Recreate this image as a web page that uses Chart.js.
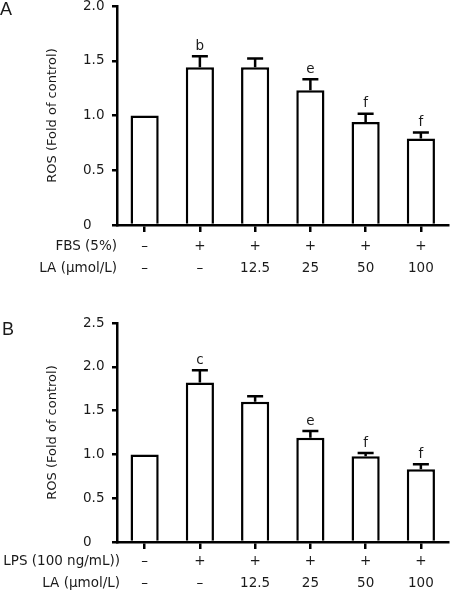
<!DOCTYPE html>
<html>
<head>
<meta charset="utf-8">
<script src="https://cdn.jsdelivr.net/npm/chart.js@4/dist/chart.umd.min.js"></script>
<style>
  html, body { margin: 0; padding: 0; background: #fff; }
  body { width: 450px; height: 593px; position: relative; overflow: hidden; }
  canvas { position: absolute; left: 0; }
  #cA { top: 0; }
  #cB { top: 290px; }
</style>
</head>
<body>
<canvas id="cA" width="450" height="290"></canvas>
<canvas id="cB" width="450" height="303"></canvas>
<script>
// ---- data ----
const groups = ['Control', 'Stimulus', 'Stimulus + LA 12.5', 'Stimulus + LA 25', 'Stimulus + LA 50', 'Stimulus + LA 100'];
const laRow = ['–', '–', '12.5', '25', '50', '100'];
const fbsRow = ['–', '+', '+', '+', '+', '+'];
const lpsRow = ['–', '+', '+', '+', '+', '+'];
const rosA = [1.00, 1.44, 1.44, 1.23, 0.94, 0.79];
const errA = [0, 0.10, 0.08, 0.10, 0.075, 0.055];
const sigA = ['', 'b', '', 'e', 'f', 'f'];
const rosB = [1.00, 1.82, 1.60, 1.19, 0.98, 0.83];
const errB = [0, 0.14, 0.065, 0.076, 0.035, 0.057];
const sigB = ['', 'c', '', 'e', 'f', 'f'];
const yMaxA = 2.0;
const yMaxB = 2.5;
const yStep = 0.5;
const yTitle = 'ROS (Fold of control)';

const FONT = '"DejaVu Sans", sans-serif';
const TXT = '#1a1a1a';
const LW = 2.5;

function decorPlugin(o) {
  return {
    id: 'decor',
    afterDatasetsDraw(chart) {
      const ctx = chart.ctx, xs = chart.scales.x, ys = chart.scales.y;
      const meta = chart.getDatasetMeta(0);
      ctx.save();
      ctx.strokeStyle = '#000';
      ctx.lineWidth = LW;
      ctx.fillStyle = TXT;
      ctx.font = '13.5px ' + FONT;
      ctx.textAlign = 'center';
      ctx.textBaseline = 'alphabetic';
      o.values.forEach((v, i) => {
        const bar = meta.data[i];
        const e = o.errors[i];
        const top = ys.getPixelForValue(v + e);
        if (e > 0) {
          ctx.beginPath();
          ctx.moveTo(bar.x, bar.y);
          ctx.lineTo(bar.x, top);
          ctx.moveTo(bar.x - 8, top);
          ctx.lineTo(bar.x + 8, top);
          ctx.stroke();
        }
        if (o.letters[i]) ctx.fillText(o.letters[i], bar.x, top - 6.5);
      });
      // condition rows
      ctx.textBaseline = 'middle';
      o.rows.forEach(r => {
        ctx.textAlign = 'right';
        ctx.fillText(r.title, o.rowTitleRight, r.y);
        ctx.textAlign = 'center';
        r.vals.forEach((t, i) => ctx.fillText(t, xs.getPixelForValue(i), r.y));
      });
      // y title
      ctx.save();
      ctx.font = '13px ' + FONT;
      ctx.translate(53, (chart.chartArea.top + chart.chartArea.bottom) / 2);
      ctx.rotate(-Math.PI / 2);
      ctx.textAlign = 'center';
      ctx.textBaseline = 'middle';
      ctx.fillText(yTitle, 0, 0);
      ctx.restore();
      // panel letter
      ctx.font = '18px "Liberation Sans", Arial, sans-serif';
      ctx.textAlign = 'left';
      ctx.textBaseline = 'alphabetic';
      ctx.fillText(o.panel, o.panelX, o.panelY);
      ctx.restore();
    }
  };
}

function makeChart(id, values, errors, letters, yMax, padTop, xHeight, decor) {
  return new Chart(document.getElementById(id), {
    type: 'bar',
    data: {
      labels: groups,
      datasets: [{
        data: values,
        backgroundColor: '#fff',
        borderColor: '#000',
        borderWidth: LW,
        borderSkipped: 'start',
        categoryPercentage: 1,
        barPercentage: 0.51
      }]
    },
    options: {
      responsive: false,
      animation: false,
      devicePixelRatio: 1,
      layout: { padding: { left: 83, right: 1.5, top: padTop, bottom: 0 } },
      plugins: { legend: { display: false }, tooltip: { enabled: false } },
      scales: {
        x: {
          offset: true,
          grid: { offset: false, drawOnChartArea: false, drawTicks: true, tickLength: 7, color: '#000', lineWidth: LW },
          border: { display: true, color: '#000', width: LW },
          ticks: { display: false },
          afterFit(s) { s.height = xHeight; s.paddingLeft = 0; s.paddingRight = 0; }
        },
        y: {
          min: 0,
          max: yMax,
          grid: { drawOnChartArea: false, drawTicks: true, tickLength: 5, color: '#000', lineWidth: LW },
          border: { display: true, color: '#000', width: LW },
          ticks: {
            stepSize: yStep,
            crossAlign: 'far',
            color: TXT,
            font: { family: FONT, size: 13.5 },
            callback: v => (v === 0 ? '0' : Number(v).toFixed(1))
          },
          afterFit(s) { s.width = 34; s.paddingTop = 0; s.paddingBottom = 0; }
        }
      }
    },
    plugins: [decorPlugin(Object.assign({ values, errors, letters }, decor))]
  });
}

makeChart('cA', rosA, errA, sigA, yMaxA, 6, 65, {
  panel: 'A', panelX: 0, panelY: 15, rowTitleRight: 117,
  rows: [{ title: 'FBS (5%)', vals: fbsRow, y: 246 }, { title: 'LA (µmol/L)', vals: laRow, y: 268 }]
});
makeChart('cB', rosB, errB, sigB, yMaxB, 33, 51, {
  panel: 'B', panelX: 2, panelY: 45, rowTitleRight: 120,
  rows: [{ title: 'LPS (100 ng/mL))', vals: lpsRow, y: 271.5 }, { title: 'LA (µmol/L)', vals: laRow, y: 293.5 }]
});
</script>
</body>
</html>
